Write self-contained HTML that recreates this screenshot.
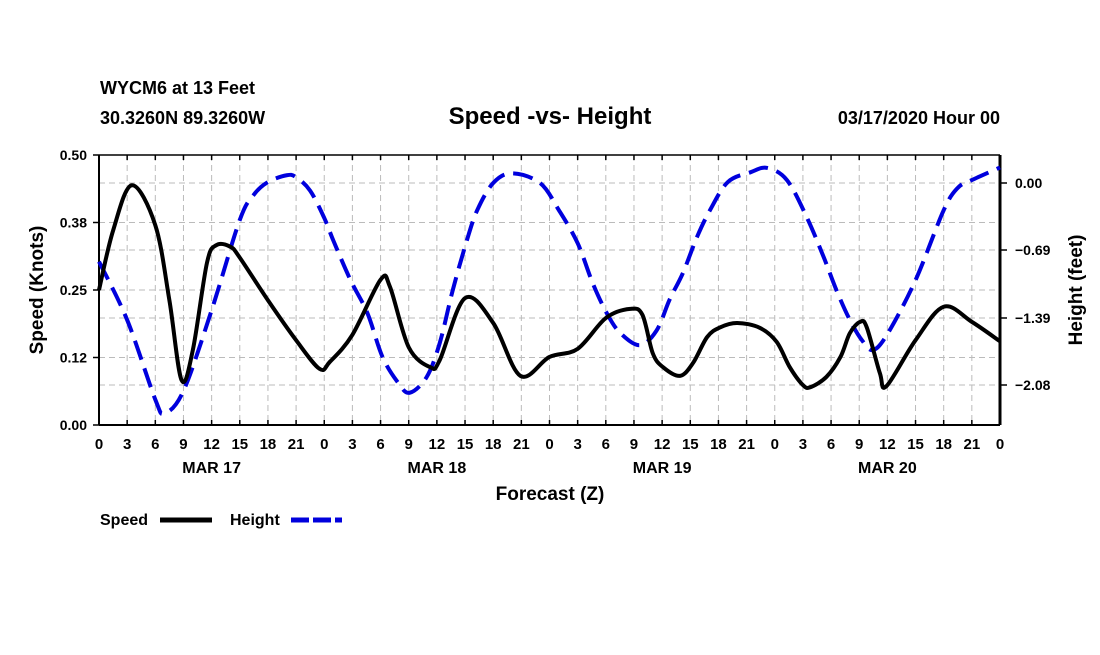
<!DOCTYPE html>
<html><head><meta charset="utf-8"><style>
body{margin:0;background:#fff;}
svg text{font-family:"Liberation Sans",Arial,sans-serif;font-weight:bold;fill:#000;}
</style></head><body>
<svg id="chart" width="1100" height="650" xmlns="http://www.w3.org/2000/svg">
<text x="100" y="94" font-size="18">WYCM6 at 13 Feet</text>
<text x="100" y="124" font-size="18">30.3260N 89.3260W</text>
<text x="550" y="124" font-size="24" text-anchor="middle">Speed -vs- Height</text>
<text x="1000" y="124" font-size="18" text-anchor="end">03/17/2020 Hour 00</text>
<g id="grid"></g>
<g id="axes"></g>
<g id="series"></g>
<text x="550" y="500" font-size="19" text-anchor="middle">Forecast (Z)</text>
<text transform="translate(43,290) rotate(-90)" font-size="19" text-anchor="middle">Speed (Knots)</text>
<text transform="translate(1082,290) rotate(-90)" font-size="19" text-anchor="middle">Height (feet)</text>
<g>
<text x="100" y="525" font-size="16">Speed</text>
<line x1="160" y1="520" x2="212" y2="520" stroke="#000" stroke-width="5"/>
<text x="230" y="525" font-size="16">Height</text>
<line x1="291" y1="520" x2="342" y2="520" stroke="#0000dd" stroke-width="5" stroke-dasharray="18,4"/>
</g>
</svg>
<script>
const speedHours=[0,1.5,3.5,6,7.5,8.8,10,11.5,12.5,14,15,18,21,23.5,24.6,27,30,31,33,35.3,36.3,39,42,44.9,48,51,54,56.6,57.9,59,60.1,61.9,63.3,64.8,66.2,68,70.4,72.2,73.6,75,75.8,77.5,79,80,81.1,81.8,83.2,83.9,87,90,93,96];
const speedValues=[0.25,0.36,0.444,0.37,0.231,0.083,0.139,0.30,0.333,0.33,0.31,0.231,0.157,0.104,0.117,0.167,0.269,0.256,0.144,0.107,0.120,0.235,0.189,0.091,0.126,0.141,0.198,0.215,0.204,0.133,0.107,0.091,0.115,0.163,0.181,0.189,0.180,0.154,0.107,0.074,0.070,0.089,0.126,0.170,0.191,0.181,0.096,0.072,0.157,0.219,0.191,0.155];
const heightHours=[0,3,6,7,9,12,15,16.5,18,20,21,22.5,24,25,26.8,28.6,30.2,31.9,33.1,34.9,36.3,37.7,39.2,40.3,42,44,47,49,51,52.6,54.1,55.5,57.6,59.4,60.8,62.2,63.7,65.1,67,69.4,71.2,73.3,75.4,77.2,78.6,80,81.3,82.5,84.1,87,90,91.5,93,96];
const heightValues=[-0.81,-1.41,-2.23,-2.37,-2.14,-1.31,-0.38,-0.12,0.01,0.08,0.06,-0.08,-0.36,-0.60,-1.0,-1.34,-1.79,-2.06,-2.16,-2.0,-1.65,-1.10,-0.59,-0.28,0,0.10,0,-0.28,-0.62,-1.03,-1.34,-1.54,-1.67,-1.52,-1.20,-0.93,-0.56,-0.28,0.01,0.11,0.155,0.03,-0.35,-0.76,-1.11,-1.41,-1.62,-1.72,-1.54,-1.00,-0.28,-0.05,0.03,0.16];
const speedTicks=[0,0.125,0.25,0.375,0.5];
const speedTickLabels=["0.00","0.12","0.25","0.38","0.50"];
const heightTicks=[0,-0.69,-1.39,-2.08];
const heightTickLabels=["0.00","-0.69","-1.39","-2.08"];
const dayLabels=["MAR 17","MAR 18","MAR 19","MAR 20"];

const X0=99,X1=1000,Y0=155,Y1=425;
const xs=h=>X0+h*(X1-X0)/96;
const ySpeed=v=>Y1-v*(Y1-Y0)/0.5;
const yHeight=f=>183-f*(385-183)/2.08;
const NS="http://www.w3.org/2000/svg";
function mk(tag,attrs,parent){const e=document.createElementNS(NS,tag);for(const k in attrs)e.setAttribute(k,attrs[k]);parent.appendChild(e);return e;}
const grid=document.getElementById('grid'),axes=document.getElementById('axes'),series=document.getElementById('series');
for(let h=3;h<96;h+=3){const l=mk('line',{x1:xs(h),x2:xs(h),y1:Y0,y2:Y1,stroke:'#bbb','stroke-dasharray':'6,4'},grid);

}
speedTicks.slice(1,4).forEach(v=>{const l=mk('line',{x1:X0,x2:X1,y1:ySpeed(v),y2:ySpeed(v),stroke:'#bbb','stroke-dasharray':'6,4'},grid);

});
heightTicks.forEach(v=>{const l=mk('line',{x1:X0,x2:X1,y1:yHeight(v),y2:yHeight(v),stroke:'#bbb','stroke-dasharray':'6,4'},grid);

});
mk('line',{x1:X0,x2:X1,y1:Y0,y2:Y0,stroke:'#000','stroke-width':1.5},axes);
mk('line',{x1:X0,x2:X1,y1:Y1,y2:Y1,stroke:'#000','stroke-width':2},axes);
mk('line',{x1:X0,x2:X0,y1:Y0,y2:Y1,stroke:'#000','stroke-width':2},axes);
mk('line',{x1:X1,x2:X1,y1:Y0,y2:Y1,stroke:'#000','stroke-width':3},axes);
for(let h=0;h<=96;h+=3){
mk('line',{x1:xs(h),x2:xs(h),y1:Y1,y2:Y1-5,stroke:'#000','stroke-width':1.5},axes);
mk('line',{x1:xs(h),x2:xs(h),y1:Y0,y2:Y0+5,stroke:'#000','stroke-width':1.5},axes);
const t=mk('text',{x:xs(h),y:449,'font-size':15,'text-anchor':'middle'},axes);t.textContent=String(h%24);

}
dayLabels.forEach((d,i)=>{const t=mk('text',{x:xs(12+24*i),y:473,'font-size':16,'text-anchor':'middle'},axes);t.textContent=d;

});
speedTicks.forEach((v,i)=>{mk('line',{x1:X0-6,x2:X0,y1:ySpeed(v),y2:ySpeed(v),stroke:'#000','stroke-width':1.5},axes);
const t=mk('text',{x:X0-12,y:ySpeed(v)+5,'font-size':14,'text-anchor':'end'},axes);t.textContent=speedTickLabels[i];

});
heightTicks.forEach((v,i)=>{mk('line',{x1:X1,x2:X1+7,y1:yHeight(v),y2:yHeight(v),stroke:'#000','stroke-width':1.5},axes);
const t=mk('text',{x:1015,y:yHeight(v)+5,'font-size':14},axes);t.textContent=heightTickLabels[i].replace('-','\u2212');

});
function spline(px,py){let d=`M${px[0]},${py[0]}`;const n=px.length;
for(let i=0;i<n-1;i++){const x0=px[Math.max(i-1,0)],y0=py[Math.max(i-1,0)],x1=px[i],y1=py[i],x2=px[i+1],y2=py[i+1],x3=px[Math.min(i+2,n-1)],y3=py[Math.min(i+2,n-1)];
d+=` C${x1+(x2-x0)/6},${y1+(y2-y0)/6} ${x2-(x3-x1)/6},${y2-(y3-y1)/6} ${x2},${y2}`;}return d;}
const hp=mk('path',{d:spline(heightHours.map(xs),heightValues.map(yHeight)),fill:'none',stroke:'#0000dd','stroke-width':4,'stroke-dasharray':'20,9'},series);


const sp=mk('path',{d:spline(speedHours.map(xs),speedValues.map(ySpeed)),fill:'none',stroke:'#000','stroke-width':4},series);


</script>
</body></html>
